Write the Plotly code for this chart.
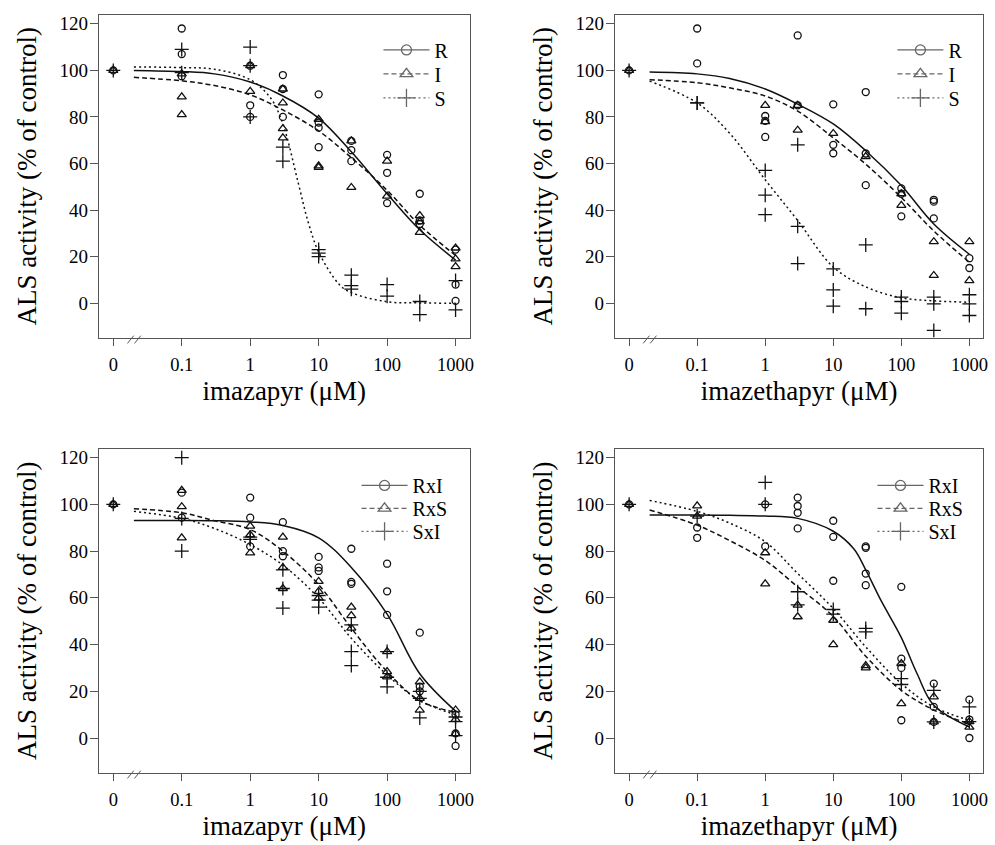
import plotly.graph_objects as go

# ---------------- data ----------------
ZERO_POS = 0.01  # plotting position of the "0" dose on the log axis
TICK_VALS = [0.01, 0.1, 1, 10, 100, 1000]
TICK_TEXT = ["0", "0.1", "1", "10", "100", "1000"]
Y_TICKS = [0, 20, 40, 60, 80, 100, 120]

# Panel 1: imazapyr, R / I / S
P1_R_X = [0, 0.1, 0.1, 0.1, 1, 1, 1, 3, 3, 3, 10, 10, 10, 10, 30, 30, 30, 100, 100, 100, 300, 300, 300, 1000, 1000, 1000]
P1_R_Y = [100, 118, 107, 97.5, 102, 85, 80, 98, 92, 80, 89.7, 77.6, 75.4, 67, 69.7, 65.7, 61, 63.7, 56, 43, 47, 35.5, 34, 23, 8, 1]
P1_I_X = [0, 0.1, 0.1, 0.1, 1, 1, 3, 3, 3, 3, 10, 10, 10, 30, 30, 100, 100, 300, 300, 300, 1000, 1000, 1000]
P1_I_Y = [100, 98.5, 88.6, 81, 102, 91, 92, 86, 75, 71, 79, 59, 58.3, 69.7, 49.7, 61, 46, 37.6, 35, 30.4, 23.7, 19, 15.7]
P1_S_X = [0, 0.1, 0.1, 1, 1, 1, 3, 3, 10, 10, 10, 30, 30, 30, 100, 100, 300, 300, 1000, 1000]
P1_S_Y = [100, 109, 99, 110, 102, 80, 67, 61, 23, 21.5, 20, 12, 7.5, 6, 8, 3, 0.7, -4.9, 9.7, -2.9]

# Panel 2: imazethapyr, R / I / S
P2_R_X = [0, 0.1, 0.1, 1, 1, 1, 3, 3, 10, 10, 10, 30, 30, 30, 100, 100, 100, 300, 300, 300, 1000, 1000]
P2_R_Y = [100, 118, 103, 80.4, 78.3, 71.4, 115, 85, 85.4, 68, 64.4, 90.7, 64.3, 50.7, 49.3, 47, 37.3, 44.4, 43.6, 36.4, 19.3, 15.1]
P2_I_X = [0, 1, 1, 3, 3, 10, 30, 100, 100, 300, 300, 1000, 1000]
P2_I_Y = [100, 85, 78, 85, 74.3, 72.9, 63, 47, 42, 26.4, 11.9, 26.4, 9.7]
P2_S_X = [0, 0.1, 0.1, 1, 1, 1, 3, 3, 3, 10, 10, 10, 30, 30, 100, 100, 100, 300, 300, 300, 1000, 1000, 1000]
P2_S_Y = [100, 86, 86, 57, 46.4, 38, 68, 33, 17, 14.7, 5.7, -1.3, 25, -2.4, 2.6, 0.7, -4.3, 2.6, -0.3, -11.7, 3.6, -0.3, -5.3]

# Panel 3: imazapyr, RxI / RxS / SxI
P3_RXI_X = [0, 0.1, 0.1, 1, 1, 1, 3, 3, 3, 10, 10, 10, 30, 30, 30, 100, 100, 100, 300, 300, 300, 1000, 1000, 1000]
P3_RXI_Y = [100, 105, 94.3, 102.9, 94.3, 82, 92.4, 80, 77.8, 77.5, 73, 71.5, 81, 66.8, 66, 74.6, 62.8, 52.7, 45.1, 22, 20, 10, 2, -3.4]
P3_RXS_X = [0, 0.1, 0.1, 0.1, 1, 1, 1, 3, 3, 3, 10, 10, 10, 30, 30, 30, 100, 100, 100, 300, 300, 300, 1000, 1000, 1000]
P3_RXS_Y = [100, 106, 99, 85.7, 90.7, 87, 79.2, 86, 73, 64, 67, 62.8, 60, 56, 52.4, 47, 37, 28.4, 26.2, 24, 17, 11.9, 12, 8, 1.9]
P3_SXI_X = [0, 0.1, 0.1, 0.1, 1, 1, 3, 3, 3, 10, 10, 10, 30, 30, 30, 100, 100, 100, 300, 300, 300, 1000, 1000, 1000]
P3_SXI_Y = [100, 120, 80, 94, 86, 85, 72, 64, 55.6, 61, 59, 56, 48.4, 37, 31, 37, 26, 21.9, 20, 17, 8.6, 9, 7, 1]

# Panel 4: imazethapyr, RxI / RxS / SxI
P4_RXI_X = [0, 0.1, 0.1, 1, 1, 3, 3, 3, 3, 10, 10, 10, 30, 30, 30, 30, 100, 100, 100, 100, 300, 300, 300, 1000, 1000, 1000]
P4_RXI_Y = [100, 90.1, 85.7, 100, 82, 102.9, 99.3, 96.4, 89.7, 93, 86.1, 67.3, 82, 81.4, 70.4, 65.4, 64.7, 34, 30, 7.6, 23.3, 13.3, 6.9, 16.4, 7.9, 0]
P4_RXS_X = [0, 0.1, 0.1, 1, 1, 3, 3, 10, 10, 30, 30, 100, 100, 300, 300, 1000, 1000]
P4_RXS_Y = [100, 99.4, 95, 79.3, 66, 56.9, 51.9, 50.4, 40, 31, 30, 31.9, 14.7, 17.6, 6.9, 4.7, 7]
P4_SXI_X = [0, 0.1, 1, 1, 3, 3, 10, 10, 30, 30, 100, 100, 300, 300, 1000, 1000]
P4_SXI_Y = [100, 95, 109.4, 100, 62.6, 57, 55, 53, 46.9, 45.4, 25.4, 22.9, 20.4, 6.9, 13.3, 7]

# Fitted curves
CURVE_X = [0.02, 0.1, 0.3, 1, 3, 10, 30, 100, 300, 1000]
P1_R_FIT = [100, 99.5, 98.5, 95, 89, 79.5, 65, 47, 31.5, 18.5]
P1_I_FIT = [97, 95.5, 93.5, 89.5, 83, 74, 62.5, 48.5, 33.5, 20.5]
P1_S_FIT_X = [0.02, 0.1, 0.3, 1, 2, 3, 5, 7, 10, 20, 30, 100, 300, 1000]
P1_S_FIT = [101.5, 101.2, 100.5, 96, 88, 77, 52, 35, 22, 8, 4.5, 0.6, 0.1, 0]
P2_R_FIT = [99.3, 98.5, 96.5, 92, 85.5, 77, 65.5, 50.5, 34, 21]
P2_I_FIT = [96, 94.7, 92.5, 89, 82.5, 71, 59.7, 45.4, 31, 17.6]
P2_S_FIT = [95.4, 86, 73, 53, 35.5, 15.5, 7, 2.3, 1, 0.4]
P3_RXI_FIT = [93.1, 93.1, 93, 92.5, 91, 85.7, 73, 53, 27.5, 11.5]
P3_RXS_FIT = [98.1, 96.4, 93, 89.2, 80, 65.6, 47, 28.4, 16, 11]
P3_SXI_FIT = [97, 94, 89.7, 82.8, 74, 59.9, 42.7, 27, 16, 10]
P4_RXI_FIT_X = [0.02, 0.1, 0.3, 1, 3, 10, 20, 30, 50, 100, 170, 300, 1000]
P4_RXI_FIT = [95.4, 95.4, 95.3, 95, 94, 88.5, 81, 72, 59, 43, 27.6, 14, 4.7]
P4_RXS_FIT = [97.6, 91.1, 84.5, 76, 64.7, 52, 35, 20.4, 12, 6]
P4_SXI_FIT = [101.7, 97, 92, 84, 70.4, 55.4, 39, 23.3, 13.3, 7.6]

# ---------------- styling ----------------
FONT = "Liberation Serif"
INK = "#111111"
AXC = "#555555"
LEGC = "#666666"
SYMBOLS = {"circle": dict(symbol="circle-open", size=7),
           "tri": dict(symbol="triangle-up-open", size=8),
           "plus": dict(symbol="cross-thin", size=10)}
DASHES = {"solid": "solid", "dash": "5px,3px", "dot": "2px,3px"}

W, H = 995, 845
# legend placement per panel: left edge (px) and row centres (px from top)
LEG_LEFT = {1: 380, 2: 896, 3: 358, 4: 876}
LEG_ROWS = {1: [49, 73, 97], 2: [49, 73, 97], 3: [485, 508, 531], 4: [485, 508, 531]}


def pos(d):
    return ZERO_POS if d == 0 else d


fig = go.Figure()

panels = [
    dict(ax=1, xt="imazapyr (μM)",
         series=[("R", P1_R_X, P1_R_Y, "circle", CURVE_X, P1_R_FIT, "solid"),
                 ("I", P1_I_X, P1_I_Y, "tri", CURVE_X, P1_I_FIT, "dash"),
                 ("S", P1_S_X, P1_S_Y, "plus", P1_S_FIT_X, P1_S_FIT, "dot")]),
    dict(ax=2, xt="imazethapyr (μM)",
         series=[("R", P2_R_X, P2_R_Y, "circle", CURVE_X, P2_R_FIT, "solid"),
                 ("I", P2_I_X, P2_I_Y, "tri", CURVE_X, P2_I_FIT, "dash"),
                 ("S", P2_S_X, P2_S_Y, "plus", CURVE_X, P2_S_FIT, "dot")]),
    dict(ax=3, xt="imazapyr (μM)",
         series=[("RxI", P3_RXI_X, P3_RXI_Y, "circle", CURVE_X, P3_RXI_FIT, "solid"),
                 ("RxS", P3_RXS_X, P3_RXS_Y, "tri", CURVE_X, P3_RXS_FIT, "dash"),
                 ("SxI", P3_SXI_X, P3_SXI_Y, "plus", CURVE_X, P3_SXI_FIT, "dot")]),
    dict(ax=4, xt="imazethapyr (μM)",
         series=[("RxI", P4_RXI_X, P4_RXI_Y, "circle", P4_RXI_FIT_X, P4_RXI_FIT, "solid"),
                 ("RxS", P4_RXS_X, P4_RXS_Y, "tri", CURVE_X, P4_RXS_FIT, "dash"),
                 ("SxI", P4_SXI_X, P4_SXI_Y, "plus", CURVE_X, P4_SXI_FIT, "dot")]),
]

layout = dict(width=W, height=H, margin=dict(l=0, r=0, t=0, b=0),
              paper_bgcolor="white", plot_bgcolor="white",
              font=dict(family=FONT, color="black"))

leg_index = 0
for p in panels:
    i = p["ax"]
    xa = "x" if i == 1 else f"x{i}"
    ya = "y" if i == 1 else f"y{i}"
    for name, xs, ys, sym, fx, fy, dash in p["series"]:
        fig.add_trace(go.Scatter(
            x=fx, y=fy, mode="lines", xaxis=xa, yaxis=ya, showlegend=False,
            line=dict(color=INK, width=1.5, dash=DASHES[dash], shape="spline", smoothing=1.0),
            hoverinfo="skip"))
        m = SYMBOLS[sym]
        fig.add_trace(go.Scatter(
            x=[pos(v) for v in xs], y=ys, mode="markers", xaxis=xa, yaxis=ya, showlegend=False,
            marker=dict(symbol=m["symbol"], size=m["size"], color=INK,
                        line=dict(color=INK, width=1.3))))
    for row, (name, xs, ys, sym, fx, fy, dash) in enumerate(p["series"]):
        m = SYMBOLS[sym]
        leg_index += 1
        lk = "legend" if leg_index == 1 else f"legend{leg_index}"
        fig.add_trace(go.Scatter(
            x=[None], y=[None], mode="lines+markers", name=name, xaxis=xa, yaxis=ya,
            legend=lk,
            line=dict(color=LEGC, width=1.2, dash=DASHES[dash]),
            marker=dict(symbol=m["symbol"], size=m["size"] + 3, color=LEGC,
                        line=dict(color=LEGC, width=1.3))))
        layout[lk] = dict(x=LEG_LEFT[i] / W, y=1 - LEG_ROWS[i][row] / H,
                          xanchor="left", yanchor="middle", bgcolor="rgba(0,0,0,0)",
                          borderwidth=0, font=dict(family=FONT, size=20, color="black"),
                          itemsizing="trace", itemwidth=46)

XDOM = {1: [99.3 / W, 471.5 / W], 2: [617.3 / W, 987.3 / W],
        3: [99.3 / W, 471.5 / W], 4: [617.3 / W, 987.3 / W]}
YDOM = {1: [1 - 337 / H, 1 - 14 / H], 2: [1 - 337 / H, 1 - 14 / H],
        3: [1 - 772.5 / H, 1 - 448.3 / H], 4: [1 - 772.5 / H, 1 - 448.3 / H]}

for p in panels:
    i = p["ax"]
    xk = "xaxis" if i == 1 else f"xaxis{i}"
    yk = "yaxis" if i == 1 else f"yaxis{i}"
    ya = "y" if i == 1 else f"y{i}"
    xa = "x" if i == 1 else f"x{i}"
    layout[xk] = dict(type="log", range=[-2.21, 3.205], domain=XDOM[i], anchor=ya,
                      tickvals=TICK_VALS, ticktext=TICK_TEXT, ticks="outside", ticklen=7,
                      tickcolor=AXC, tickwidth=1, showline=True, linecolor=AXC, linewidth=1,
                      mirror=True, showgrid=False, zeroline=False,
                      ticklabeloverflow="allow", ticklabelstandoff=3,
                      tickfont=dict(family=FONT, size=18.5, color="black"),
                      title=dict(text=p["xt"], font=dict(family=FONT, size=27, color="black"), standoff=7))
    layout[yk] = dict(range=[-14.8, 123.8], domain=YDOM[i], anchor=xa,
                      tickvals=Y_TICKS, ticks="outside", ticklen=8, tickcolor=AXC, tickwidth=1,
                      showline=True, linecolor=AXC, linewidth=1, mirror=True,
                      showgrid=False, zeroline=False, ticklabelstandoff=-2,
                      tickfont=dict(family=FONT, size=19, color="black"),
                      title=dict(text="ALS activity (% of control)",
                                 font=dict(family=FONT, size=27, color="black"), standoff=15))

fig.update_layout(**layout)

# axis-break marks "//" next to the zero dose
shapes = []
for i in range(1, 5):
    xr = "x domain" if i == 1 else f"x{i} domain"
    yr = "y domain" if i == 1 else f"y{i} domain"
    for x0 in (0.077, 0.096):
        shapes.append(dict(type="line", xref=xr, yref=yr, x0=x0, x1=x0 + 0.017,
                           y0=-0.018, y1=0.006, line=dict(color=AXC, width=1)))
fig.update_layout(shapes=shapes)

fig.write_html("out.html", config={"displayModeBar": False},
               post_script="document.body.style.margin='0px';document.body.style.padding='0px';")
